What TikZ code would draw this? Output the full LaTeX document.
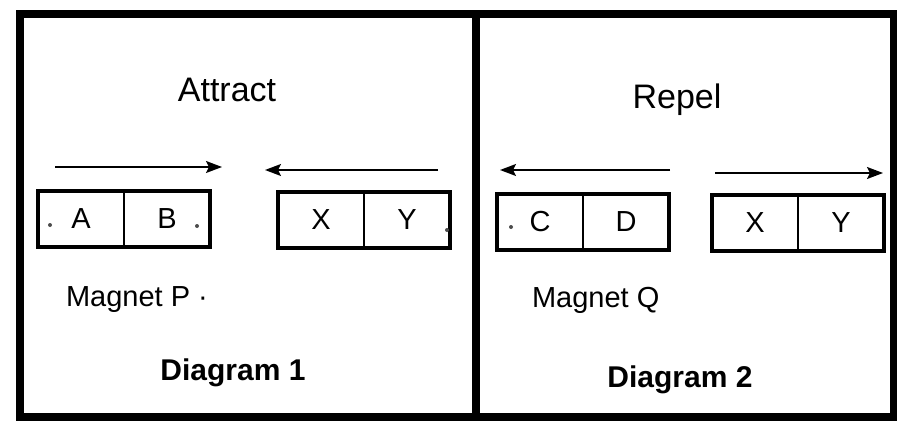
\documentclass[tikz,border=0pt]{standalone}
\usepackage{fontspec}
\setmainfont{Liberation Sans}
\usetikzlibrary{arrows.meta, positioning, fit}
\tikzset{
  frame/.style={line width=4pt},
  polecell/.style={rectangle, draw, line width=0.8pt, minimum width=43pt,
    minimum height=28pt, inner sep=0pt, outer sep=0pt,
    font=\fontsize{14.5}{17}\selectfont},
  magnetbox/.style={rectangle, draw, line width=2.2pt, inner sep=0pt},
  arrow/.style={-{Stealth[length=8pt, width=6pt, inset=1.5pt]}, line width=0.8pt},
  title/.style={font=\fontsize{17}{20}\selectfont},
  caption/.style={anchor=west, font=\fontsize{14.5}{17}\selectfont},
  diagram/.style={font=\fontsize{15}{18}\selectfont\bfseries},
  speck/.style={fill=black!70},
}
\begin{document}
\begin{tikzpicture}[x=0.5pt, y=-0.5pt]
  \useasboundingbox (0,0) rectangle (897,427);

  % outer frame and divider
  \draw[frame] (20,14) rectangle (894,417);
  \draw[frame] (476,14) -- (476,417);

  % Diagram 1
  \node[title] (attract) at (227,90) {Attract};
  \coordinate (pin1) at (55,167);
  \coordinate (pin2) at (222,167);
  \coordinate (xin1) at (438,170);
  \coordinate (xin2) at (265,170);
  \draw[arrow] (pin1) -- (pin2);
  \draw[arrow] (xin1) -- (xin2);

  \node[polecell] (A) at (81,219) {A};
  \node[polecell, right=0pt of A] (B) {B};
  \node[magnetbox, fit=(A)(B)] (magP) {};
  \node[polecell] (X1) at (321,220) {X};
  \node[polecell, right=0pt of X1] (Y1) {Y};
  \node[magnetbox, fit=(X1)(Y1)] (magXY1) {};

  \node[caption] (labP) at (59,300) {Magnet P \textperiodcentered};
  \node[diagram] (dia1) at (233,373) {Diagram 1};

  % Diagram 2
  \node[title] (repel) at (677,100) {Repel};
  \coordinate (qout1) at (670,170);
  \coordinate (qout2) at (500,170);
  \coordinate (xout1) at (715,173);
  \coordinate (xout2) at (883,173);
  \draw[arrow] (qout1) -- (qout2);
  \draw[arrow] (xout1) -- (xout2);

  \node[polecell] (C) at (540,222) {C};
  \node[polecell, right=0pt of C] (D) {D};
  \node[magnetbox, fit=(C)(D)] (magQ) {};
  \node[polecell] (X2) at (755,223) {X};
  \node[polecell, right=0pt of X2] (Y2) {Y};
  \node[magnetbox, fit=(X2)(Y2)] (magXY2) {};

  \node[caption] (labQ) at (525,300) {Magnet Q};
  \node[diagram] (dia2) at (680,380) {Diagram 2};

  % specks printed inside the magnets
  \fill[speck] (50,225) circle (1pt);
  \fill[speck] (197,226) circle (1pt);
  \fill[speck] (447,230) circle (1pt);
  \fill[speck] (511,227) circle (1pt);
\end{tikzpicture}
\end{document}
